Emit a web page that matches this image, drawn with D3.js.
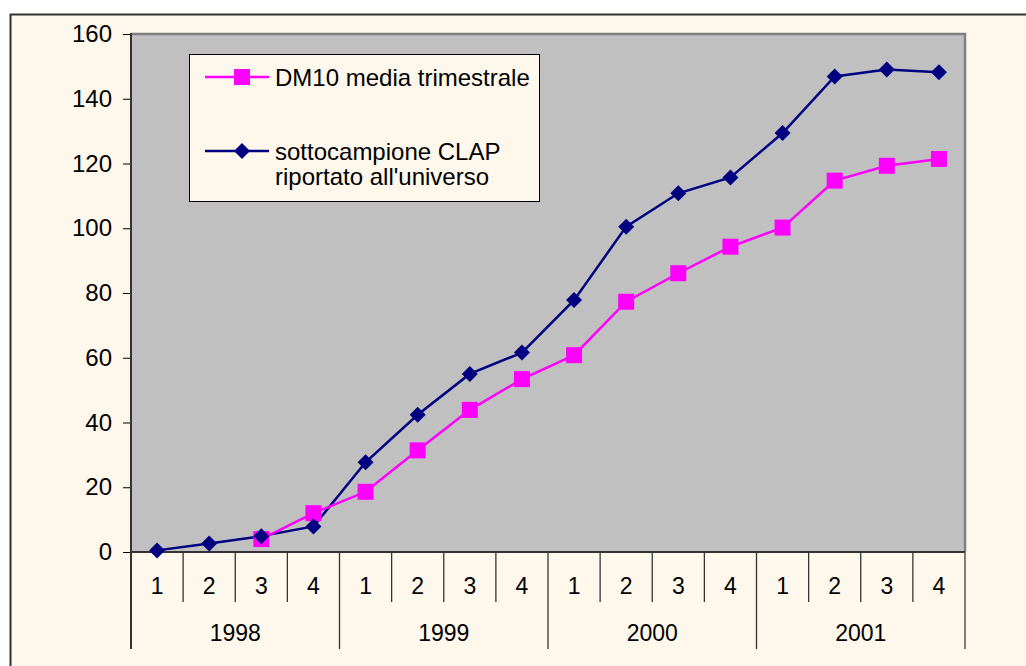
<!DOCTYPE html>
<html><head><meta charset="utf-8">
<script src="https://cdn.jsdelivr.net/npm/d3@7"></script>
<style>body{margin:0;background:#fff;}svg{display:block;}</style>
</head><body>
<svg id="c" width="1026" height="666"></svg>
<script>
const years = ["1998","1999","2000","2001"];
const quarters = ["1","2","3","4"];
const categories = years.flatMap(y => quarters.map(q => y + "-" + q));
const dm10 = [null, null, 4.0, 12.0, 18.6, 31.4, 43.9, 53.4, 60.8, 77.3, 86.1, 94.3, 100.2, 114.7, 119.3, 121.4];
const clap = [0.5, 2.6, 4.9, 7.9, 27.7, 42.4, 55.0, 61.6, 77.8, 100.5, 110.8, 115.7, 129.4, 146.9, 149.0, 148.2];
const yTicks = [0, 20, 40, 60, 80, 100, 120, 140, 160];
const seriesNames = ["DM10 media trimestrale", ["sottocampione CLAP", "riportato all'universo"]];

const svg = d3.select("#c");
const font = "'Liberation Sans', Arial, sans-serif";
const L = 131, R = 965, T = 34, B = 552;

// outer background & border
svg.append("rect").attr("x", 10.5).attr("y", 14.5).attr("width", 1030).attr("height", 700)
  .attr("fill", "#FEF8EC").attr("stroke", "#333").attr("stroke-width", 2);

const x = d3.scaleBand().domain(categories).range([L, R]);
const y = d3.scaleLinear().domain([0, 160]).range([B, T]);

// plot area
svg.append("rect").attr("x", L).attr("y", T).attr("width", R - L).attr("height", B - T)
  .attr("fill", "#C0C0C0");
svg.append("path").attr("d", `M${L},${T}H${R}V${B}`).attr("fill", "none")
  .attr("stroke", "#808080").attr("stroke-width", 2.5);

// y axis
const yAxis = d3.axisLeft(y).tickValues(yTicks).tickSize(8).tickPadding(11);
const gy = svg.append("g").attr("transform", `translate(${L},0)`).call(yAxis);
gy.select(".domain").remove();
gy.selectAll(".tick line").attr("stroke", "#000");
gy.selectAll("text").attr("font-family", font).attr("font-size", 24).attr("fill", "#000");
svg.append("line").attr("x1", L).attr("x2", L).attr("y1", T - 1).attr("y2", 649)
  .attr("stroke", "#333").attr("stroke-width", 2);

// x axis baseline
svg.append("line").attr("x1", L).attr("x2", R).attr("y1", B).attr("y2", B)
  .attr("stroke", "#333").attr("stroke-width", 2);

// quarter separators and labels
const gx = svg.append("g");
categories.forEach((c, i) => {
  const x0 = x(c);
  if (i > 0) {
    const yearBreak = i % 4 === 0;
    gx.append("line").attr("x1", x0).attr("x2", x0).attr("y1", B).attr("y2", yearBreak ? 649 : 602)
      .attr("stroke", "#333").attr("stroke-width", 1.3);
  }
  gx.append("text").attr("x", x0 + x.bandwidth() / 2).attr("y", 594)
    .attr("text-anchor", "middle").attr("font-family", font).attr("font-size", 23)
    .text(quarters[i % 4]);
});
gx.append("line").attr("x1", R).attr("x2", R).attr("y1", B).attr("y2", 649)
  .attr("stroke", "#555").attr("stroke-width", 1.5);
years.forEach((yr, j) => {
  const a = x(categories[j * 4]), b = x(categories[j * 4 + 3]) + x.bandwidth();
  gx.append("text").attr("x", (a + b) / 2).attr("y", 641)
    .attr("text-anchor", "middle").attr("font-family", font).attr("font-size", 23).text(yr);
});

const cx = i => x(categories[i]) + x.bandwidth() / 2;
const line = d3.line().defined(d => d != null).x((d, i) => cx(i)).y(d => y(d));

// CLAP series (navy, diamonds)
svg.append("path").datum(clap).attr("d", line).attr("fill", "none")
  .attr("stroke", "#000080").attr("stroke-width", 2.5);
// DM10 series (magenta, squares)
svg.append("path").datum(dm10).attr("d", line).attr("fill", "none")
  .attr("stroke", "#FF00FF").attr("stroke-width", 2.5);

const diamond = (g, px, py) => g.append("path")
  .attr("d", `M${px},${py - 8}L${px + 8},${py}L${px},${py + 8}L${px - 8},${py}Z`)
  .attr("fill", "#000080");
const square = (g, px, py) => g.append("rect")
  .attr("x", px - 8).attr("y", py - 8).attr("width", 16).attr("height", 16).attr("fill", "#FF00FF");

const gm = svg.append("g");
dm10.forEach((d, i) => { if (d != null) square(gm, cx(i), y(d)); });
clap.forEach((d, i) => { if (d != null) diamond(gm, cx(i), y(d)); });

// legend
const lg = svg.append("g");
lg.append("rect").attr("x", 189.5).attr("y", 54.5).attr("width", 350).attr("height", 147)
  .attr("fill", "#FEF8EC").attr("stroke", "#000").attr("stroke-width", 1);
lg.append("line").attr("x1", 205).attr("x2", 269).attr("y1", 77).attr("y2", 77)
  .attr("stroke", "#FF00FF").attr("stroke-width", 2.5);
square(lg, 242, 77);
lg.append("text").attr("x", 275).attr("y", 86).attr("font-family", font).attr("font-size", 24)
  .text(seriesNames[0]);
lg.append("line").attr("x1", 205).attr("x2", 269).attr("y1", 151).attr("y2", 151)
  .attr("stroke", "#000080").attr("stroke-width", 2.5);
diamond(lg, 242, 151);
const t2 = lg.append("text").attr("font-family", font).attr("font-size", 24);
seriesNames[1].forEach((s, k) => t2.append("tspan").attr("x", 275).attr("y", 160 + k * 25).text(s));
</script>
</body></html>
